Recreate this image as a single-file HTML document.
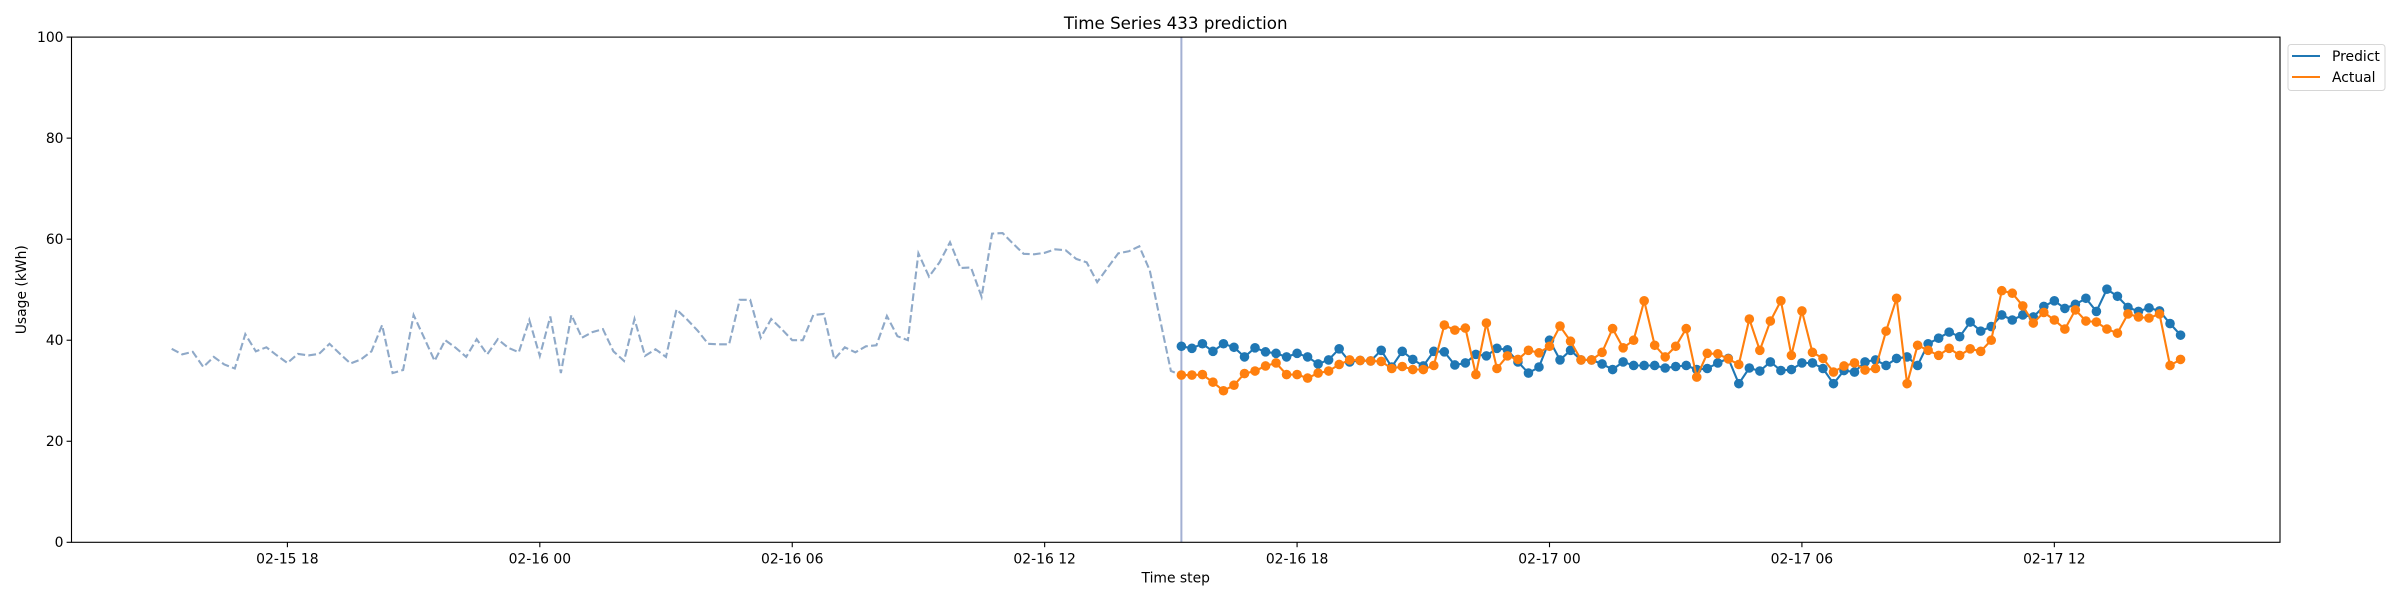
<!DOCTYPE html>
<html><head><meta charset="utf-8"><style>
html,body{margin:0;padding:0;background:#fff;}
svg{display:block;font-family:"DejaVu Sans","Liberation Sans",sans-serif;}
</style></head><body>
<svg id="chart" width="2400" height="600" viewBox="0 0 2400 600" xmlns="http://www.w3.org/2000/svg"></svg>
<script>
const yTicks = [0, 20, 40, 60, 80, 100];
const xTickLabels = ["02-15 18", "02-16 00", "02-16 06", "02-16 12", "02-16 18", "02-17 00", "02-17 06", "02-17 12"];
const xTickHours = [0, 6, 12, 18, 24, 30, 36, 42];
const historyStartHour = -2.75;
const predStartHour = 21.25;
const stepHours = 0.25;
const history = [38.3,37.2,37.7,34.7,36.7,35.2,34.4,41.2,37.8,38.6,37.0,35.5,37.3,37.0,37.3,39.3,37.3,35.4,36.2,37.8,43.0,33.5,34.1,45.0,40.5,35.9,40.0,38.5,36.7,40.2,37.2,40.2,38.5,37.6,44.0,36.9,44.7,33.5,45.0,40.5,41.6,42.2,37.8,35.9,44.2,36.9,38.2,36.7,46.1,44.1,41.9,39.3,39.2,39.2,48.0,48.0,40.5,44.2,42.2,40.0,40.0,45.0,45.2,36.2,38.6,37.6,38.8,39.0,44.8,40.8,40.0,57.2,52.6,55.4,59.4,54.3,54.4,48.6,61.1,61.2,59.1,57.1,57.0,57.3,58.0,57.8,56.1,55.4,51.5,54.4,57.2,57.6,58.6,53.8,43.8,33.9];
const predict = [38.8,38.4,39.3,37.8,39.3,38.6,36.7,38.5,37.7,37.4,36.7,37.4,36.7,35.3,36.1,38.3,35.7,36.0,35.9,38.0,34.7,37.8,36.2,34.9,37.8,37.7,35.1,35.5,37.2,36.9,38.4,38.1,35.7,33.5,34.7,40.0,36.1,38.0,36.1,36.1,35.3,34.2,35.7,35.0,35.0,35.0,34.5,34.8,35.0,34.2,34.4,35.5,36.4,31.4,34.5,33.9,35.7,34.0,34.2,35.5,35.5,34.4,31.4,34.0,33.7,35.7,36.1,35.0,36.4,36.7,35.0,39.3,40.4,41.6,40.7,43.6,41.8,42.7,45.0,44.0,45.0,44.6,46.7,47.8,46.3,47.1,48.3,45.7,50.1,48.7,46.5,45.7,46.4,45.8,43.3,41.0];
const actual = [33.1,33.1,33.2,31.7,30.0,31.1,33.4,33.9,34.9,35.5,33.2,33.2,32.5,33.5,33.9,35.2,36.1,36.0,35.9,35.8,34.4,34.8,34.2,34.2,35.0,43.0,42.0,42.4,33.2,43.4,34.4,36.9,36.2,38.0,37.5,38.8,42.8,39.8,36.1,36.1,37.6,42.3,38.5,40.0,47.8,39.0,36.7,38.8,42.3,32.7,37.4,37.3,36.3,35.2,44.2,38.0,43.8,47.8,37.0,45.8,37.6,36.4,33.7,34.9,35.5,34.1,34.4,41.8,48.3,31.4,39.0,38.0,37.0,38.4,37.0,38.3,37.8,40.0,49.8,49.3,46.8,43.4,45.5,44.0,42.2,46.0,43.8,43.6,42.2,41.4,45.2,44.6,44.4,45.2,35.0,36.2];

const L = 71.5, R = 2280, T = 37.1, B = 542.3;
const x0 = 287.4, pxPerHour = 42.07;
function xs(h){ return x0 + h * pxPerHour; }
function ys(v){ return B - (v / 100) * (B - T); }
const NS = "http://www.w3.org/2000/svg";
const svg = document.getElementById("chart");
function mk(tag, attrs, parent){
  const e = document.createElementNS(NS, tag);
  for (const k in attrs) e.setAttribute(k, attrs[k]);
  (parent || svg).appendChild(e);
  return e;
}
// title
const title = mk("text", {x:(L+R)/2, y:29, "text-anchor":"middle", "font-size":"16.7", fill:"#000"});
title.textContent = "Time Series 433 prediction";



// y ticks
const yg = mk("g", {});


yTicks.forEach(v => {
  const y = ys(v);
  mk("line", {x1:L-4.9, x2:L, y1:y, y2:y, stroke:"#000", "stroke-width":1.1}, yg);
  const t = mk("text", {x:L-8, y:y+4.8, "text-anchor":"end", "font-size":"13.9", fill:"#000"}, yg);
  t.textContent = v;
  
  
});
const ylab = mk("text", {x:0, y:0, transform:"translate(26,"+((T+B)/2)+") rotate(-90)", "text-anchor":"middle", "font-size":"13.9", fill:"#000"});
ylab.textContent = "Usage (kWh)";



// x ticks
const xg = mk("g", {});


xTickHours.forEach((h, i) => {
  const x = xs(h);
  mk("line", {x1:x, x2:x, y1:B, y2:B+4.9, stroke:"#000", "stroke-width":1.1}, xg);
  const t = mk("text", {x:x, y:B+21, "text-anchor":"middle", "font-size":"13.9", fill:"#000"}, xg);
  t.textContent = xTickLabels[i];
  
  
});
const xlab = mk("text", {x:(L+R)/2, y:B+40, "text-anchor":"middle", "font-size":"13.9", fill:"#000"});
xlab.textContent = "Time step";



// history dashed line (connects to first actual)
let hp = history.map((v,i) => xs(historyStartHour + i*stepHours).toFixed(1)+","+ys(v).toFixed(1));
hp.push(xs(predStartHour).toFixed(1)+","+ys(actual[0]).toFixed(1));
const hist = mk("polyline", {points:hp.join(" "), fill:"none", stroke:"#8fa9c8", "stroke-width":2.1, "stroke-dasharray":"7.7,3.3"});



// vertical split line
const vl = mk("line", {x1:xs(predStartHour), x2:xs(predStartHour), y1:T, y2:B, stroke:"#a3b0d2", "stroke-width":2});



function series(vals, color, name){
  const g = mk("g", {});
  
  
  const pts = vals.map((v,i) => xs(predStartHour + i*stepHours).toFixed(1)+","+ys(v).toFixed(1));
  mk("polyline", {points:pts.join(" "), fill:"none", stroke:color, "stroke-width":2.1}, g);
  vals.forEach((v,i) => {
    const c = mk("circle", {cx:xs(predStartHour + i*stepHours), cy:ys(v), r:4.8, fill:color}, g);
    
    
  });
}
series(predict, "#1f77b4", "predict-series");
series(actual, "#ff7f0e", "actual-series");

// frame
const fr = mk("rect", {x:L, y:T, width:R-L, height:B-T, fill:"none", stroke:"#000", "stroke-width":1.1});



// legend
const lg = mk("g", {});


mk("rect", {x:2288, y:44.5, width:97, height:46, rx:3, fill:"#fff", stroke:"#d6d6d6", "stroke-width":1}, lg);
mk("line", {x1:2292, x2:2320, y1:56, y2:56, stroke:"#1f77b4", "stroke-width":2.1}, lg);
const t1 = mk("text", {x:2332, y:61, "font-size":"13.9", fill:"#000"}, lg);
t1.textContent = "Predict";


mk("line", {x1:2292, x2:2320, y1:77, y2:77, stroke:"#ff7f0e", "stroke-width":2.1}, lg);
const t2 = mk("text", {x:2332, y:82, "font-size":"13.9", fill:"#000"}, lg);
t2.textContent = "Actual";


</script>
</body></html>
